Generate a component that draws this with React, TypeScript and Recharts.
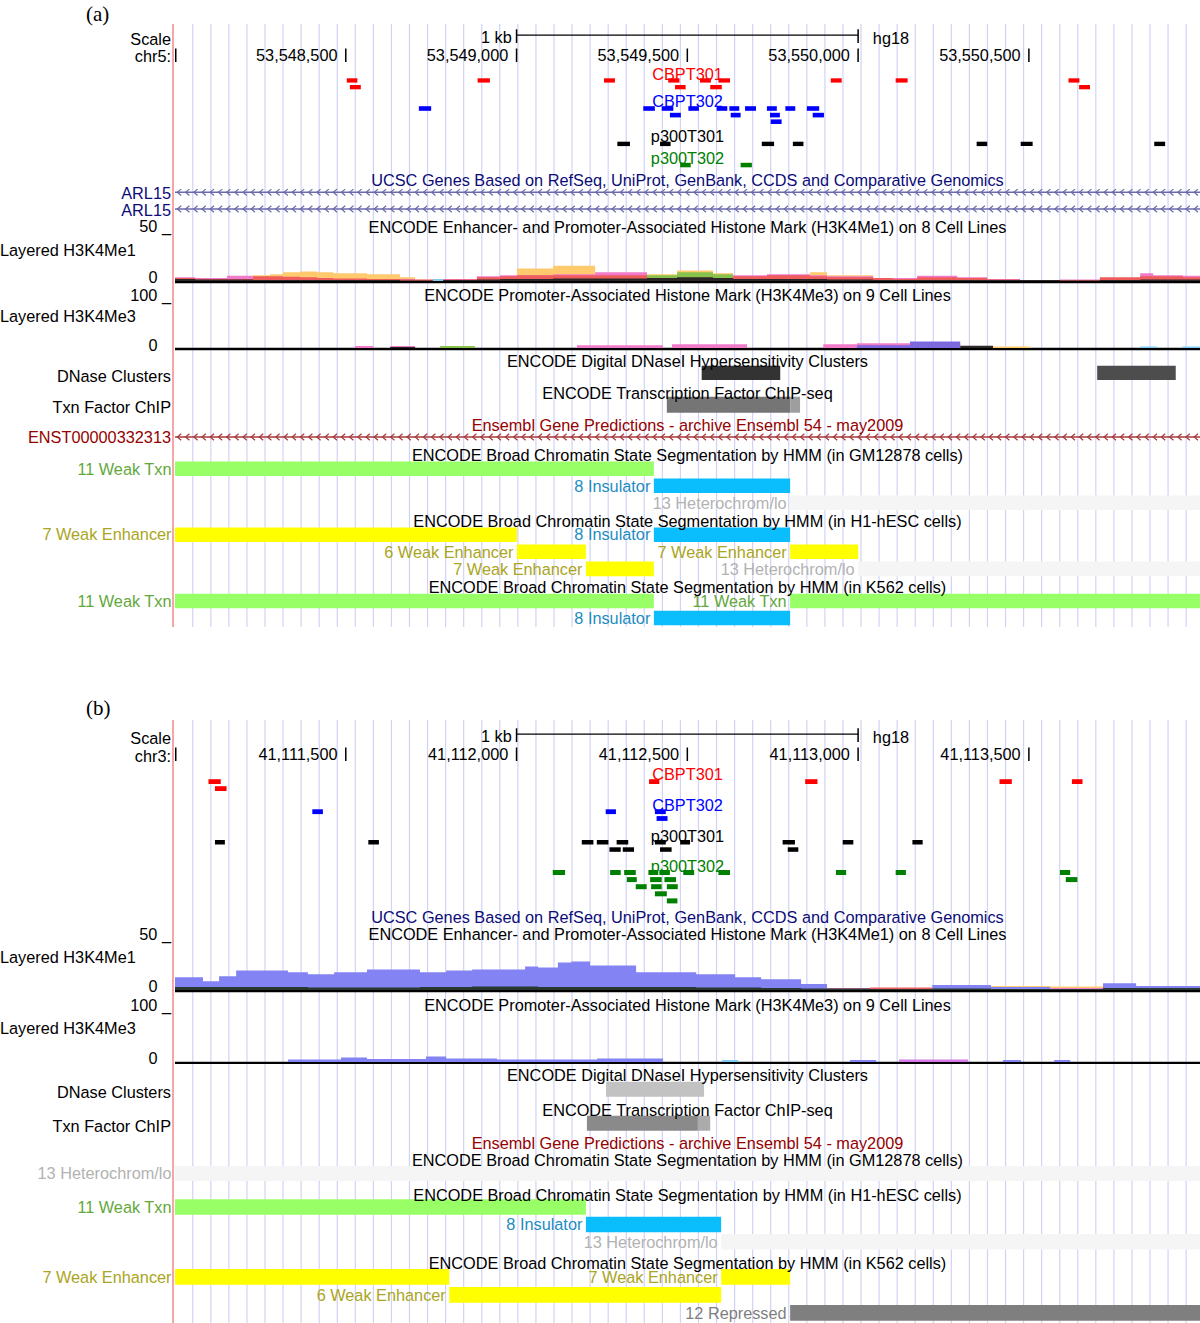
import React from 'react';
import { ComposedChart, AreaChart, Area, XAxis, YAxis, ReferenceArea, ReferenceLine } from 'recharts';

const FONT = '"Liberation Sans", Arial, Helvetica, sans-serif';
const FS = 16.3;
const W = 1200;
const LEFT = 175;

type Feat = [number, number, number]; // start, end, packing row
type Seg = [number, number, string, number]; // start, end, state, packing row
type Blk = [number, number, number]; // start, end, score (0-1000)

// ================= panel (a) chr5 =================
const aStart = 53548000;
const aEnd = 53551001;
const aPosTicks = [53548500, 53549000, 53549500, 53550000, 53550500];
const aScaleBar = [53549000, 53550000];

const aCBPT301: Feat[] = [
  [53548503, 53548534, 0], [53548512, 53548544, 1], [53548886, 53548922, 0], [53549256, 53549288, 0],
  [53549444, 53549477, 0], [53549464, 53549495, 1], [53549537, 53549569, 0], [53549567, 53549601, 1],
  [53549591, 53549625, 0], [53549920, 53549952, 0], [53550110, 53550145, 0], [53550616, 53550648, 0],
  [53550647, 53550679, 1],
];
const aCBPT302: Feat[] = [
  [53548714, 53548750, 0], [53549371, 53549405, 0], [53549425, 53549459, 0], [53549449, 53549481, 1],
  [53549503, 53549534, 0], [53549586, 53549617, 0], [53549623, 53549652, 0], [53549627, 53549656, 1],
  [53549669, 53549701, 0], [53549733, 53549762, 0], [53549742, 53549771, 1], [53549744, 53549776, 2],
  [53549787, 53549816, 0], [53549850, 53549886, 0], [53549867, 53549900, 1],
];
const aP300T301: Feat[] = [
  [53549295, 53549332, 0], [53549420, 53549451, 0], [53549718, 53549754, 0], [53549809, 53549840, 0],
  [53550347, 53550378, 0], [53550476, 53550511, 0], [53550867, 53550899, 0],
];
const aP300T302: Feat[] = [[53549479, 53549510, 0], [53549656, 53549689, 0]];
const aUcscGenes: [number, number][] = [[53548000, 53551001], [53548000, 53551001]];
const aEnsembl: [number, number][] = [[53548000, 53551001]];
const aDNase: Blk[] = [[53549542, 53549772, 800], [53550700, 53550930, 700]];
const aTxn: Blk[] = [[53549440, 53549801, 540], [53549801, 53549830, 380]];
const aGM12878: Seg[] = [
  [53548000, 53549402, '11 Weak Txn', 0], [53549402, 53549801, '8 Insulator', 1],
  [53549801, 53551001, '13 Heterochrom/lo', 2],
];
const aH1: Seg[] = [
  [53548000, 53549001, '7 Weak Enhancer', 0], [53549001, 53549203, '6 Weak Enhancer', 1],
  [53549203, 53549402, '7 Weak Enhancer', 2], [53549402, 53549801, '8 Insulator', 0],
  [53549801, 53550000, '7 Weak Enhancer', 1], [53550000, 53551001, '13 Heterochrom/lo', 2],
];
const aK562: Seg[] = [
  [53548000, 53549402, '11 Weak Txn', 0], [53549402, 53549801, '8 Insulator', 1],
  [53549801, 53551001, '11 Weak Txn', 0],
];

const aMe1Pos = [53548000, 53548059, 53548152, 53548228, 53548278, 53548316, 53548366, 53548416, 53548463, 53548562,
  53548659, 53548703, 53548755, 53548785, 53548884, 53548952, 53549001, 53549107, 53549230, 53549382, 53549470,
  53549575, 53549634, 53549733, 53549859, 53549909, 53550044, 53550102, 53550173, 53550290, 53550378, 53550474,
  53550591, 53550708, 53550826, 53550864, 53550951, 53551001];
const aMe1Orange = [0, 0, 0, 6, 7, 9, 10, 9, 8, 7, 4, 2, 0, 0, 0, 0, 13, 16, 5, 7, 11, 8, 5, 0, 9, 6, 0, 0, 0, 0, 0, 0, 0, 0, 0, 0, 0, 0];
const aMe1Pink = [4, 3, 5.5, 3, 0, 0, 0, 0, 0, 0, 2, 1.5, 1, 2, 5, 6, 6, 7, 9, 4, 4, 6, 6, 7, 6, 5, 2, 3, 5.5, 4, 2, 0.5, 1.5, 3, 8, 6, 5.5, 5.5];
const aMe1Red = [3, 2, 2, 5, 5, 4.5, 4, 3, 2.5, 2, 1.5, 1, 0, 1.5, 4, 5, 6, 6, 6, 5, 5, 4, 5, 6, 5, 4, 3, 2, 4, 3, 1.5, 0, 1, 4, 5, 5, 4, 4];
const aMe1Green = [0, 0, 0, 0, 0, 0, 0, 0, 0, 0, 0, 0, 0, 0, 0, 0, 0, 0, 0, 6, 9, 7, 0, 0, 0, 0, 0, 0, 0, 0, 0, 0, 0, 0, 0, 0, 0, 0];
const aMe1Blue = [0, 0, 0, 0, 0, 0, 0, 0, 0, 0, 0, 0, 2, 0, 0, 0, 0, 0, 0, 0, 0, 0, 0, 0, 0, 0, 0, 0, 0, 0, 0, 1, 0, 0, 0, 0, 0, 0];
const aMe1Dark = [2, 1.5, 1.5, 1, 1, 1, 1, 1, 1, 1, 0.5, 0.5, 0, 1, 1.5, 2, 2, 2.5, 2.5, 3, 4, 3, 2, 2, 2, 1.5, 1, 1, 1, 1, 1, 1, 0.5, 1, 1.5, 1.5, 1.5, 1.5];

const aMe3Pos = [53548000, 53548527, 53548580, 53548630, 53548703, 53548776, 53548878, 53549177, 53549429, 53549455,
  53549675, 53549898, 53549997, 53550152, 53550299, 53550395, 53550503, 53550826, 53550875, 53550949, 53551001];
const aMe3Pink = [0, 4, 0, 4, 0, 0, 0, 6, 0, 8, 0, 8, 10, 8, 0, 0, 0, 0, 0, 0, 0];
const aMe3Blue = [0, 0, 0, 0, 0, 0, 0, 0, 0, 0, 0, 0, 6, 14, 0, 0, 0, 0, 0, 0, 0];
const aMe3Green = [0, 0, 0, 0, 0, 4, 0, 0, 0, 0, 0, 0, 0, 0, 0, 0, 0, 0, 0, 0, 0];
const aMe3Dark = [0, 0, 0, 2, 0, 0, 0, 0, 0, 0, 0, 0, 0, 0, 5, 0, 0, 0, 0, 0, 0];
const aMe3Orange = [0, 0, 0, 0, 0, 0, 0, 0, 0, 0, 0, 0, 0, 0, 0, 3, 0, 0, 0, 0, 0];
const aMe3LBlue = [0, 0, 0, 0, 0, 0, 0, 0, 0, 0, 0, 0, 0, 0, 0, 0, 0, 3, 0, 3, 3];

// ================= panel (b) chr3 =================
const bStart = 41111000;
const bEnd = 41114001;
const bPosTicks = [41111500, 41112000, 41112500, 41113000, 41113500];
const bScaleBar = [41112000, 41113000];

const bCBPT301: Feat[] = [
  [41111098, 41111134, 0], [41111117, 41111151, 1], [41112388, 41112418, 0], [41112845, 41112881, 0],
  [41113414, 41113450, 0], [41113626, 41113657, 0],
];
const bCBPT302: Feat[] = [
  [41111402, 41111433, 0], [41112261, 41112291, 0], [41112405, 41112437, 0], [41112410, 41112442, 1],
];
const bP300T301: Feat[] = [
  [41111117, 41111146, 0], [41111566, 41111597, 0], [41112191, 41112225, 0], [41112235, 41112269, 0],
  [41112293, 41112327, 0], [41112272, 41112305, 1], [41112311, 41112344, 1], [41112405, 41112437, 0],
  [41112420, 41112454, 1], [41112479, 41112508, 0], [41112779, 41112815, 0], [41112794, 41112825, 1],
  [41112955, 41112986, 0], [41113159, 41113189, 0],
];
const bP300T302: Feat[] = [
  [41112106, 41112142, 0], [41112274, 41112305, 0], [41112315, 41112349, 0], [41112386, 41112415, 0],
  [41112418, 41112449, 0], [41112488, 41112520, 0], [41112591, 41112625, 0], [41112935, 41112965, 0],
  [41113110, 41113140, 0], [41113591, 41113621, 0],
  [41112323, 41112352, 1], [41112391, 41112425, 1], [41112433, 41112467, 1], [41113608, 41113642, 1],
  [41112349, 41112381, 2], [41112394, 41112425, 2], [41112440, 41112472, 2],
  [41112405, 41112440, 3],
  [41112440, 41112471, 4],
];
const bDNase: Blk[] = [[41112262, 41112549, 240]];
const bTxn: Blk[] = [[41112206, 41112531, 460], [41112531, 41112567, 330]];
const bGM12878: Seg[] = [[41111000, 41114001, '13 Heterochrom/lo', 0]];
const bH1: Seg[] = [
  [41111000, 41112203, '11 Weak Txn', 0], [41112203, 41112599, '8 Insulator', 1],
  [41112599, 41114001, '13 Heterochrom/lo', 2],
];
const bK562: Seg[] = [
  [41111000, 41111803, '7 Weak Enhancer', 0], [41111803, 41112599, '6 Weak Enhancer', 1],
  [41112599, 41112801, '7 Weak Enhancer', 0], [41112801, 41114001, '12 Repressed', 2],
];

const bMe1Pos = [41111000, 41111082, 41111129, 41111179, 41111331, 41111389, 41111466, 41111562, 41111717, 41111794,
  41111870, 41112025, 41112063, 41112121, 41112160, 41112215, 41112350, 41112526, 41112640, 41112716, 41112833,
  41112909, 41113035, 41113217, 41113389, 41113562, 41113717, 41113814, 41114001];
const bMe1Blue = [13, 9, 14, 20, 18, 16, 18, 21, 18, 20, 21, 24, 23, 28, 29, 25, 18, 16, 13, 11, 6, 0, 0, 5, 3, 0, 7, 4, 4];
const bMe1Dark = [3, 3, 3, 3, 3, 2.5, 2.5, 2.5, 3, 3, 3.5, 3.5, 3, 3, 3, 3, 3, 2.5, 2.5, 2, 1.5, 1.5, 1, 1.5, 1, 1, 2, 2, 2];
const bMe1Pink = [0, 0, 0, 0, 0, 0, 0, 0, 0, 0, 0, 0, 0, 0, 0, 0, 0, 0, 0, 0, 0, 2, 2, 0, 0, 2, 0, 0, 0];
const bMe1Red = [0, 0, 0, 0, 0, 0, 0, 0, 0, 0, 0, 0, 0, 0, 0, 0, 0, 0, 0, 0, 0, 0, 2.5, 0, 0, 0, 0, 0, 0];
const bMe1Orange = [0, 0, 0, 0, 0, 0, 0, 0, 0, 0, 0, 0, 0, 0, 0, 0, 0, 0, 0, 0, 0, 0, 0, 0, 4, 3.5, 0, 0, 0];

const bMe3Pos = [41111000, 41111331, 41111486, 41111562, 41111735, 41111794, 41111943, 41112236, 41112429, 41112602,
  41112649, 41112976, 41113053, 41113120, 41113322, 41113424, 41113477, 41113574, 41113621, 41114001];
const bMe3Blue = [0, 5, 9, 6, 11, 7, 5, 7, 0, 0, 0, 4, 0, 0, 0, 4, 0, 4, 0, 0];
const bMe3LBlue = [0, 0, 0, 0, 0, 0, 0, 0, 0, 4, 0, 0, 0, 0, 0, 0, 0, 0, 0, 0];
const bMe3Pink = [0, 0, 0, 0, 0, 0, 0, 0, 0, 0, 0, 0, 0, 5, 0, 0, 0, 0, 0, 0];

// ================= styles =================
const STATE_STYLE: Record<string, { fill: string; text: string }> = {
  '11 Weak Txn': { fill: '#99ff66', text: '#62a83c' },
  '8 Insulator': { fill: '#0abefe', text: '#1d8cc0' },
  '13 Heterochrom/lo': { fill: '#f5f5f5', text: '#b2b2b2' },
  '7 Weak Enhancer': { fill: '#ffff00', text: '#aaa522' },
  '6 Weak Enhancer': { fill: '#ffff00', text: '#aaa522' },
  '12 Repressed': { fill: '#7f7f7f', text: '#7f7f7f' },
};
const SIG = {
  orange: '#ffca6e', pink: '#f27bc9', red: '#ee5c5c', green: '#88c24c', blue: '#8383f3',
  lblue: '#7dcbf0', dark: '#2c2626', magenta: '#d57ae6', darkg: '#28382e',
};
const gray = (s: number) => {
  const g = Math.round(255 - s * 0.255);
  return `rgb(${g},${g},${g})`;
};
const fmt = (n: number) => n.toLocaleString('en-US');

type SeriesCfg = { key: string; color: string; values: number[] };
type SignalCfg = { pos: number[]; series: SeriesCfg[]; top: number; height: number; max: number };

type PanelCfg = {
  start: number; end: number; top: number; bottom: number; gridTop: number; shift: number;
  assembly: string; posTicks: number[]; scaleBar: number[];
  featTracks: { data: Feat[]; color: string; y0: number; h: number; pitch: number }[];
  genes: { data: [number, number][]; ys: number[]; color: string }[];
  blocks: { data: Blk[]; y0: number; h: number }[];
  chromatin: { data: Seg[]; y0: number; h: number; pitch: number }[];
  baselines: [number, number][];
  signals: SignalCfg[];
};

const panelA: PanelCfg = {
  start: aStart, end: aEnd, top: 0, bottom: 627, gridTop: 24, shift: 0, assembly: 'hg18',
  posTicks: aPosTicks, scaleBar: aScaleBar,
  featTracks: [
    { data: aCBPT301, color: '#ff0000', y0: 78.3, h: 4.3, pitch: 6.7 },
    { data: aCBPT302, color: '#0000ff', y0: 106.2, h: 4.6, pitch: 6.6 },
    { data: aP300T301, color: '#000000', y0: 141.7, h: 4.4, pitch: 6.7 },
    { data: aP300T302, color: '#008000', y0: 162.8, h: 4.5, pitch: 6.7 },
  ],
  genes: [
    { data: aUcscGenes, ys: [192.3, 209], color: '#6a6aac' },
    { data: aEnsembl, ys: [437], color: '#a63a3a' },
  ],
  blocks: [{ data: aDNase, y0: 365.7, h: 14.3 }, { data: aTxn, y0: 396.7, h: 16 }],
  chromatin: [
    { data: aGM12878, y0: 461.5, h: 14.6, pitch: 17 },
    { data: aH1, y0: 527.4, h: 14.6, pitch: 17.1 },
    { data: aK562, y0: 593.7, h: 14.6, pitch: 17 },
  ],
  baselines: [[280.8, 283.2], [347.8, 350.2]],
  signals: [
    {
      pos: aMe1Pos, top: 233, height: 48, max: 50,
      series: [
        { key: 'orange', color: SIG.orange, values: aMe1Orange },
        { key: 'pink', color: SIG.pink, values: aMe1Pink },
        { key: 'red', color: SIG.red, values: aMe1Red },
        { key: 'green', color: SIG.green, values: aMe1Green },
        { key: 'blue', color: SIG.lblue, values: aMe1Blue },
        { key: 'dark', color: SIG.dark, values: aMe1Dark },
      ],
    },
    {
      pos: aMe3Pos, top: 301, height: 47, max: 100,
      series: [
        { key: 'pink', color: SIG.pink, values: aMe3Pink },
        { key: 'blue', color: '#7d68e0', values: aMe3Blue },
        { key: 'green', color: SIG.green, values: aMe3Green },
        { key: 'dark', color: SIG.dark, values: aMe3Dark },
        { key: 'orange', color: SIG.orange, values: aMe3Orange },
        { key: 'lblue', color: SIG.lblue, values: aMe3LBlue },
      ],
    },
  ],
};

const panelB: PanelCfg = {
  start: bStart, end: bEnd, top: 700, bottom: 1323, gridTop: 720, shift: 699, assembly: 'hg18',
  posTicks: bPosTicks, scaleBar: bScaleBar,
  featTracks: [
    { data: bCBPT301, color: '#ff0000', y0: 779.2, h: 4.8, pitch: 7 },
    { data: bCBPT302, color: '#0000ff', y0: 809.3, h: 4.8, pitch: 6.8 },
    { data: bP300T301, color: '#000000', y0: 840, h: 4.5, pitch: 7.3 },
    { data: bP300T302, color: '#008000', y0: 870, h: 5, pitch: 7.1 },
  ],
  genes: [],
  blocks: [{ data: bDNase, y0: 1081.7, h: 15 }, { data: bTxn, y0: 1115.7, h: 15 }],
  chromatin: [
    { data: bGM12878, y0: 1166, h: 15, pitch: 17.4 },
    { data: bH1, y0: 1199.3, h: 15.5, pitch: 17.4 },
    { data: bK562, y0: 1269, h: 15.7, pitch: 18 },
  ],
  baselines: [[990, 992.3], [1061.8, 1064]],
  signals: [
    {
      pos: bMe1Pos, top: 941, height: 49, max: 50,
      series: [
        { key: 'orange', color: SIG.orange, values: bMe1Orange },
        { key: 'blue', color: SIG.blue, values: bMe1Blue },
        { key: 'pink', color: SIG.pink, values: bMe1Pink },
        { key: 'red', color: SIG.red, values: bMe1Red },
        { key: 'dark', color: SIG.darkg, values: bMe1Dark },
      ],
    },
    {
      pos: bMe3Pos, top: 1012, height: 50, max: 100,
      series: [
        { key: 'blue', color: SIG.blue, values: bMe3Blue },
        { key: 'lblue', color: SIG.lblue, values: bMe3LBlue },
        { key: 'pink', color: SIG.magenta, values: bMe3Pink },
      ],
    },
  ],
};

// ================= text labels =================
type TextItem = [string, number, 'left' | 'title', string?, number?];
const NAVY = '#0c0c78';
const DRED = '#960000';
const textsA: TextItem[] = [
  ['Scale', 29.8, 'left'], ['chr5:', 47.2, 'left'],
  ['ARL15', 183.8, 'left', NAVY], ['ARL15', 200.5, 'left', NAVY],
  ['50 _', 217.2, 'left'], ['Layered H3K4Me1', 240.5, 'left', '#000', 135], ['0', 268.2, 'left', '#000', 157.5],
  ['100 _', 285.5, 'left'], ['Layered H3K4Me3', 306.5, 'left', '#000', 135], ['0', 335.5, 'left', '#000', 157.5],
  ['DNase Clusters', 366.5, 'left'], ['Txn Factor ChIP', 398.2, 'left'],
  ['ENST00000332313', 428.2, 'left', DRED],
  ['CBPT301', 64.5, 'title', '#ff0000'], ['CBPT302', 92.2, 'title', '#0000ff'],
  ['p300T301', 127.2, 'title', '#000'], ['p300T302', 148.8, 'title', '#008000'],
  ['UCSC Genes Based on RefSeq, UniProt, GenBank, CCDS and Comparative Genomics', 170.5, 'title', NAVY],
  ['ENCODE Enhancer- and Promoter-Associated Histone Mark (H3K4Me1) on 8 Cell Lines', 217.5, 'title'],
  ['ENCODE Promoter-Associated Histone Mark (H3K4Me3) on 9 Cell Lines', 285.5, 'title'],
  ['ENCODE Digital DNaseI Hypersensitivity Clusters', 352.2, 'title'],
  ['ENCODE Transcription Factor ChIP-seq', 383.5, 'title'],
  ['Ensembl Gene Predictions - archive Ensembl 54 - may2009', 415.5, 'title', DRED],
  ['ENCODE Broad Chromatin State Segmentation by HMM (in GM12878 cells)', 446, 'title'],
  ['ENCODE Broad Chromatin State Segmentation by HMM (in H1-hESC cells)', 512, 'title'],
  ['ENCODE Broad Chromatin State Segmentation by HMM (in K562 cells)', 578, 'title'],
];
const textsB: TextItem[] = [
  ['Scale', 728.5, 'left'], ['chr3:', 746.5, 'left'],
  ['50 _', 924.5, 'left'], ['Layered H3K4Me1', 947.5, 'left', '#000', 135], ['0', 976.5, 'left', '#000', 157.5],
  ['100 _', 995.5, 'left'], ['Layered H3K4Me3', 1018.5, 'left', '#000', 135], ['0', 1048.5, 'left', '#000', 157.5],
  ['DNase Clusters', 1082.5, 'left'], ['Txn Factor ChIP', 1116.5, 'left'],
  ['CBPT301', 765, 'title', '#ff0000'], ['CBPT302', 795.5, 'title', '#0000ff'],
  ['p300T301', 826.8, 'title', '#000'], ['p300T302', 857.3, 'title', '#008000'],
  ['UCSC Genes Based on RefSeq, UniProt, GenBank, CCDS and Comparative Genomics', 907.5, 'title', NAVY],
  ['ENCODE Enhancer- and Promoter-Associated Histone Mark (H3K4Me1) on 8 Cell Lines', 924.5, 'title'],
  ['ENCODE Promoter-Associated Histone Mark (H3K4Me3) on 9 Cell Lines', 995.5, 'title'],
  ['ENCODE Digital DNaseI Hypersensitivity Clusters', 1066, 'title'],
  ['ENCODE Transcription Factor ChIP-seq', 1100.5, 'title'],
  ['Ensembl Gene Predictions - archive Ensembl 54 - may2009', 1134, 'title', DRED],
  ['ENCODE Broad Chromatin State Segmentation by HMM (in GM12878 cells)', 1150.5, 'title'],
  ['ENCODE Broad Chromatin State Segmentation by HMM (in H1-hESC cells)', 1185.5, 'title'],
  ['ENCODE Broad Chromatin State Segmentation by HMM (in K562 cells)', 1254, 'title'],
];

// ================= components =================
const GeneShape = (props: any) => {
  const { x, y, width, height, color } = props;
  const cy = y + height / 2;
  const chev: React.ReactNode[] = [];
  for (let cx = x + 4; cx < x + width - 3; cx += 8.2) {
    chev.push(
      <polyline key={cx} points={`${cx + 2.2},${cy - 3.2} ${cx - 1.6},${cy} ${cx + 2.2},${cy + 3.2}`}
        fill="none" stroke={color} strokeWidth={1.2} />
    );
  }
  return (
    <g>
      <line x1={x} x2={x + width} y1={cy} y2={cy} stroke={color} strokeWidth={1.4} />
      {chev}
    </g>
  );
};

function Axes({ cfg }: { cfg: PanelCfg }) {
  return [
    <XAxis key="x" type="number" dataKey="x" domain={[cfg.start, cfg.end]} hide allowDataOverflow />,
    <YAxis key="y" type="number" domain={[cfg.gridTop, cfg.bottom]} reversed hide allowDataOverflow />,
  ];
}

function GuideChart({ cfg }: { cfg: PanelCfg }) {
  const guides = Array.from({ length: 60 }, (_, i) => cfg.start + 52 + i * 52.88).filter((v) => v < cfg.end);
  const h = cfg.bottom - cfg.top;
  return (
    <div style={{ position: 'absolute', left: 0, top: cfg.top }}>
      <ComposedChart width={W} height={h} data={[]} margin={{ top: cfg.gridTop - cfg.top, right: 0, bottom: 0, left: LEFT }}>
        {Axes({ cfg })}
        {guides.map((v) => (
          <ReferenceLine key={v} x={v} stroke="#d2d2f6" strokeWidth={1.2} ifOverflow="visible" />
        ))}
      </ComposedChart>
    </div>
  );
}

function FeatureChart({ cfg }: { cfg: PanelCfg }) {
  const els: React.ReactNode[] = [];
  let k = 0;
  const lbl = (value: string, position: string, offset: number, fill = '#000') => ({
    value, position, offset, fill, fontSize: FS, fontFamily: FONT,
  });
  const rect = (x1: number, x2: number, y1: number, y2: number, fill: string, label?: any, op = 1) => {
    els.push(
      <ReferenceArea key={k++} x1={x1} x2={x2} y1={y1} y2={y2} fill={fill} fillOpacity={op}
        stroke="none" ifOverflow="visible" label={label} />
    );
  };
  const s = cfg.shift;
  const [b0, b1] = cfg.scaleBar;
  const tw = 2.2;
  // scale bar
  rect(b0, b1, 34.4 + s, 35.8 + s, '#000');
  rect(b0 - tw, b0 + tw, 29.3 + s, 43 + s, '#000');
  rect(b1 - tw, b1 + tw, 29.3 + s, 43 + s, '#000');
  rect(b0 - tw, b0 + tw, 32.6 + s, 42.6 + s, '#fff', lbl('1 kb', 'left', 4), 0);
  rect(b1 - tw, b1 + tw, 33.3 + s, 43.3 + s, '#fff', lbl(cfg.assembly, 'right', 14), 0);
  // position ruler
  rect(cfg.start, cfg.start + 4.4, 48.5 + s, 62 + s, '#000');
  cfg.posTicks.forEach((t) => rect(t - tw, t + tw, 48.5 + s, 62 + s, '#000', lbl(fmt(t), 'left', 7.5)));
  // feature tracks
  cfg.featTracks.forEach((tr) =>
    tr.data.forEach(([a, b, lv]) => rect(a, b, tr.y0 + lv * tr.pitch, tr.y0 + lv * tr.pitch + tr.h, tr.color))
  );
  // genes
  cfg.genes.forEach((g) =>
    g.data.forEach(([a, b], i) => {
      const y = g.ys[i];
      els.push(
        <ReferenceArea key={k++} x1={a} x2={b} y1={y - 4} y2={y + 4} ifOverflow="visible"
          shape={(p: any) => <GeneShape {...p} color={g.color} />} />
      );
    })
  );
  // score blocks
  cfg.blocks.forEach((bl) => bl.data.forEach(([a, b, sc]) => rect(a, b, bl.y0, bl.y0 + bl.h, gray(sc))));
  // chromatin states
  cfg.chromatin.forEach((ch) =>
    ch.data.forEach(([a, b, st, lv]) => {
      const style = STATE_STYLE[st];
      const y1 = ch.y0 + lv * ch.pitch;
      rect(a, b, y1, y1 + ch.h, style.fill, lbl(st, 'left', 3.5, style.text));
    })
  );
  // signal baselines
  cfg.baselines.forEach(([y1, y2]) => rect(cfg.start, cfg.end, y1, y2, '#000'));

  const h = cfg.bottom - cfg.top;
  return (
    <div style={{ position: 'absolute', left: 0, top: cfg.top }}>
      <ComposedChart width={W} height={h} data={[]} margin={{ top: cfg.gridTop - cfg.top, right: 0, bottom: 0, left: LEFT }}
        style={{ fontFamily: FONT }}>
        {Axes({ cfg })}
        {els}
      </ComposedChart>
    </div>
  );
}

function SignalChart({ cfg, sig }: { cfg: PanelCfg; sig: SignalCfg }) {
  const rows = sig.pos.map((p, i) => {
    const r: Record<string, number> = { pos: p };
    sig.series.forEach((se) => { r[se.key] = se.values[i]; });
    return r;
  });
  return (
    <div style={{ position: 'absolute', left: 0, top: sig.top }}>
      <AreaChart width={W} height={sig.height} data={rows} margin={{ top: 0, right: 0, bottom: 0, left: LEFT }}>
        <XAxis type="number" dataKey="pos" domain={[cfg.start, cfg.end]} hide allowDataOverflow />
        <YAxis type="number" domain={[0, sig.max]} hide allowDataOverflow />
        {sig.series.map((se) => (
          <Area key={se.key} dataKey={se.key} type="stepAfter" stroke="none" fill={se.color} fillOpacity={1}
            isAnimationActive={false} dot={false} activeDot={false} />
        ))}
      </AreaChart>
    </div>
  );
}

function Texts({ items }: { items: TextItem[] }) {
  return (
    <>
      {items.map(([t, top, kind, color, right], i) => {
        const base: React.CSSProperties = {
          position: 'absolute', top, fontSize: FS, lineHeight: '18px', whiteSpace: 'nowrap',
          color: color || '#000', fontFamily: FONT,
        };
        if (kind === 'left') {
          return <div key={i} style={{ ...base, left: 0, width: right ?? 171, textAlign: 'right' }}>{t}</div>;
        }
        return <div key={i} style={{ ...base, left: LEFT, width: W - LEFT, textAlign: 'center' }}>{t}</div>;
      })}
    </>
  );
}

function Panel({ cfg, letter, letterTop, texts }: { cfg: PanelCfg; letter: string; letterTop: number; texts: TextItem[] }) {
  return (
    <>
      <GuideChart cfg={cfg} />
      <div style={{ position: 'absolute', left: 172.2, top: cfg.gridTop, width: 1.4, height: cfg.bottom - cfg.gridTop, background: '#f6a6a6' }} />
      <FeatureChart cfg={cfg} />
      {cfg.signals.map((sg, i) => <SignalChart key={i} cfg={cfg} sig={sg} />)}
      <Texts items={texts} />
      <div style={{ position: 'absolute', left: 86, top: letterTop, fontFamily: '"Liberation Serif", "Times New Roman", serif', fontSize: 21, lineHeight: '24px' }}>
        {letter}
      </div>
    </>
  );
}

export default function App() {
  return (
    <div style={{ position: 'absolute', left: 0, top: 0, width: W, height: 1323, background: '#fff', overflow: 'hidden', fontFamily: FONT }}>
      <Panel cfg={panelA} letter="(a)" letterTop={1.5} texts={textsA} />
      <Panel cfg={panelB} letter="(b)" letterTop={695.5} texts={textsB} />
    </div>
  );
}
